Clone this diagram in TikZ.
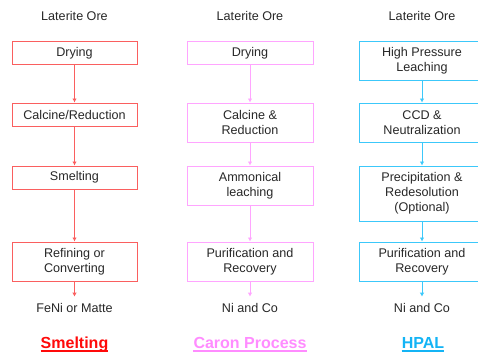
\documentclass[tikz,border=0pt]{standalone}
\usepackage{fontspec}
\setmainfont{Liberation Sans}
\usetikzlibrary{arrows.meta}
\definecolor{redb}{RGB}{250,95,95}
\definecolor{redt}{RGB}{255,10,10}
\definecolor{pinkb}{RGB}{255,165,255}
\definecolor{pinkt}{RGB}{255,140,255}
\definecolor{cyanb}{RGB}{60,200,250}
\definecolor{cyant}{RGB}{20,180,245}
\definecolor{txt}{RGB}{40,40,40}
\tikzset{
  stepbox/.style={draw, line width=1pt, fill=white, inner sep=0pt, align=center, text=txt,
    font=\fontsize{12.6}{15}\selectfont},
  lbl/.style={inner sep=0pt, text=txt, font=\fontsize{12.6}{15}\selectfont},
  outlbl/.style={lbl, inner ysep=6.5pt},
  arr/.style={line width=0.9pt, -{Latex[length=4pt,width=4.5pt]}},
  ttl/.style={inner sep=0pt, anchor=base, font=\fontsize{16}{18}\selectfont\bfseries},
}
\begin{document}
\begin{tikzpicture}[x=1pt,y=-1pt]
\clip (0,0) rectangle (478,353);
\fill[white] (0,0) rectangle (478,353);
% Column 1: Smelting
\node[lbl] (l1) at (74.5,16) {Laterite Ore};
\node[stepbox, draw=redb, minimum width=125pt, minimum height=22pt] (a1) at (74.5,53) {Drying};
\node[stepbox, draw=redb, minimum width=125pt, minimum height=23pt] (a2) at (74.5,114.5) {Calcine/Reduction};
\node[stepbox, draw=redb, minimum width=125pt, minimum height=23pt] (a3) at (74.5,177.5) {Smelting};
\node[stepbox, draw=redb, minimum width=125pt, minimum height=39pt] (a4) at (74.5,261.5) {Refining or\\Converting};
\node[outlbl] (a5) at (74.5,308) {FeNi or Matte};
\draw[arr, redb] (a1) -- (a2);
\draw[arr, redb] (a2) -- (a3);
\draw[arr, redb] (a3) -- (a4);
\draw[arr, redb] (a4) -- (a5);
\node[ttl, text=redt] (t1) at (74.5,348) {Smelting};
\draw[redt, line width=1.6pt] ([yshift=-3pt]t1.base west) -- ([yshift=-3pt]t1.base east);
% Column 2: Caron
\node[lbl] (l2) at (250,16) {Laterite Ore};
\node[stepbox, draw=pinkb, minimum width=126pt, minimum height=22pt] (b1) at (250,53) {Drying};
\node[stepbox, draw=pinkb, minimum width=126pt, minimum height=39pt] (b2) at (250,122.5) {Calcine \&\\Reduction};
\node[stepbox, draw=pinkb, minimum width=126pt, minimum height=39pt] (b3) at (250,185.5) {Ammonical\\leaching};
\node[stepbox, draw=pinkb, minimum width=126pt, minimum height=39pt] (b4) at (250,261.5) {Purification and\\Recovery};
\node[outlbl] (b5) at (250,308) {Ni and Co};
\draw[arr, pinkb] (b1) -- (b2);
\draw[arr, pinkb] (b2) -- (b3);
\draw[arr, pinkb] (b3) -- (b4);
\draw[arr, pinkb] (b4) -- (b5);
\node[ttl, text=pinkt] (t2) at (250,348) {Caron Process};
\draw[pinkt, line width=1.6pt] ([yshift=-3pt]t2.base west) -- ([yshift=-3pt]t2.base east);
% Column 3: HPAL
\node[lbl] (l3) at (422,16) {Laterite Ore};
\node[stepbox, draw=cyanb, minimum width=126pt, minimum height=38pt] (c1) at (422,61) {High Pressure\\Leaching};
\node[stepbox, draw=cyanb, minimum width=126pt, minimum height=39pt] (c2) at (422,122.5) {CCD \&\\Neutralization};
\node[stepbox, draw=cyanb, minimum width=126pt, minimum height=55pt] (c3) at (422,193.5) {Precipitation \&\\Redesolution\\(Optional)};
\node[stepbox, draw=cyanb, minimum width=126pt, minimum height=39pt] (c4) at (422,261.5) {Purification and\\Recovery};
\node[outlbl] (c5) at (422,308) {Ni and Co};
\draw[arr, cyanb] (c1) -- (c2);
\draw[arr, cyanb] (c2) -- (c3);
\draw[arr, cyanb] (c3) -- (c4);
\draw[arr, cyanb] (c4) -- (c5);
\node[ttl, text=cyant] (t3) at (423,348) {HPAL};
\draw[cyant, line width=1.6pt] ([yshift=-3pt]t3.base west) -- ([yshift=-3pt]t3.base east);
\end{tikzpicture}
\end{document}
